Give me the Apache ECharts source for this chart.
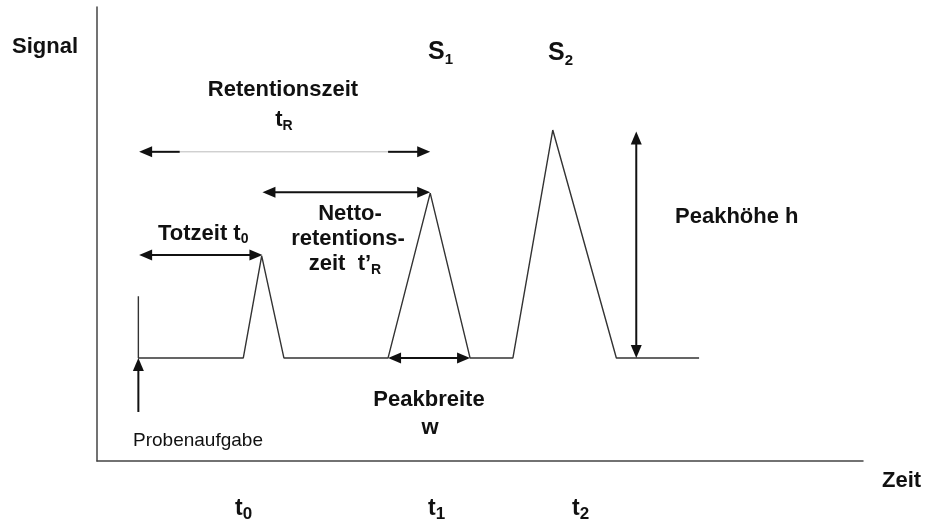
<!DOCTYPE html>
<html><head><meta charset="utf-8">
<script src="https://cdn.jsdelivr.net/npm/echarts@6/dist/echarts.min.js"></script>
<style>html,body{margin:0;padding:0;background:#fff}#c{width:925px;height:524px}</style>
</head><body><div id="c"></div>
<script>
// Chromatogram trace (time, signal) in arbitrary units 0..100
const timeValues   = [5.4, 5.4, 19.1, 21.5, 24.4, 38.0, 43.5, 48.7, 54.3, 59.5, 67.8, 78.6];
const signalValues = [36.3, 22.7, 22.7, 45.2, 22.7, 22.7, 59.0, 22.7, 22.7, 72.9, 22.7, 22.7];

// Annotation arrows: [x1, y1, x2, y2, headAtStart, headAtEnd]
const arrowTotzeit      = [5.5, 45.4, 21.6, 45.4, 1, 1];
const arrowNetto        = [21.6, 59.2, 43.5, 59.2, 1, 1];
const arrowRetentionL   = [10.8, 68.1, 5.5, 68.1, 0, 1];
const arrowRetentionR   = [38.0, 68.1, 43.5, 68.1, 0, 1];
const arrowPeakbreite   = [38.0, 22.7, 48.7, 22.7, 1, 1];
const arrowPeakhoehe    = [70.4, 22.7, 70.4, 72.6, 1, 1];
const arrowProbe        = [5.4, 10.8, 5.4, 22.7, 0, 1];
const retentionGuide    = [[10.8, 68.1], [38.0, 68.1]];

// Labels
const peakNames   = ['1', '2'];
const timeTicks   = ['0', '1', '2'];

const chart = echarts.init(document.getElementById('c'));
const FONT = '"Liberation Sans", Arial, Helvetica, sans-serif';
const INK = '#111';

function head(tip, from, L, W) {
  const dx = tip[0] - from[0], dy = tip[1] - from[1];
  const len = Math.sqrt(dx * dx + dy * dy) || 1;
  const ux = dx / len, uy = dy / len;
  const bx = tip[0] - ux * L, by = tip[1] - uy * L;
  const nx = -uy, ny = ux;
  return {
    type: 'polygon',
    shape: { points: [[tip[0], tip[1]], [bx + nx * W / 2, by + ny * W / 2], [bx - nx * W / 2, by - ny * W / 2]] },
    style: { fill: INK }
  };
}

const arrows = [arrowTotzeit, arrowNetto, arrowRetentionL, arrowRetentionR, arrowPeakbreite, arrowPeakhoehe, arrowProbe];

function bold(fs) { return 'bold ' + fs + 'px ' + FONT; }

function txt(x, baseline, text, fs, align, opts) {
  opts = opts || {};
  const weight = opts.weight || 'bold';
  const lh = opts.lineHeight || fs;
  const style = {
    text: text,
    font: weight + ' ' + fs + 'px ' + FONT,
    fill: INK,
    align: align, textAlign: align,
    verticalAlign: 'middle', textVerticalAlign: 'middle'
  };
  if (opts.rich) style.rich = opts.rich;
  return { type: 'text', x: x, y: baseline - 0.35 * fs, style: style, z: 10 };
}

function subRich(fs, subFs, lh) {
  return {
    m: { font: bold(fs), fill: INK, lineHeight: lh, verticalAlign: 'middle' },
    s: { font: bold(subFs), fill: INK, lineHeight: lh, verticalAlign: 'bottom' }
  };
}

const graphics = [
  txt(12, 55, 'Signal', 22, 'left'),
  txt(428, 61, '{m|S}{s|' + peakNames[0] + '}', 25, 'left', { rich: subRich(25, 15, 30) }),
  txt(548, 62, '{m|S}{s|' + peakNames[1] + '}', 25, 'left', { rich: subRich(25, 15, 30) }),
  txt(283, 98, 'Retentionszeit', 22, 'center'),
  txt(284, 128, '{m|t}{s|R}', 22, 'center', { rich: subRich(22, 14, 26) }),
  txt(158, 242, '{m|Totzeit t}{s|0}', 22, 'left', { rich: subRich(22, 14, 24) }),
  txt(350, 222, 'Netto-', 22, 'center'),
  txt(348, 247, 'retentions-', 22, 'center'),
  txt(345, 272, '{m|zeit  t\u2019}{s|R}', 22, 'center', { rich: subRich(22, 14, 26) }),
  txt(675, 225, 'Peakhöhe h', 22, 'left'),
  txt(429, 408, 'Peakbreite', 22, 'center'),
  txt(430, 436, 'w', 22, 'center'),
  txt(133, 447, 'Probenaufgabe', 19, 'left', { weight: 'normal' }),
  txt(235, 517, '{m|t}{s|' + timeTicks[0] + '}', 23, 'left', { rich: subRich(23, 17, 28) }),
  txt(428, 517, '{m|t}{s|' + timeTicks[1] + '}', 23, 'left', { rich: subRich(23, 17, 28) }),
  txt(572, 517, '{m|t}{s|' + timeTicks[2] + '}', 23, 'left', { rich: subRich(23, 17, 28) }),
  txt(882, 489, 'Zeit', 22, 'left')
];

const axisCommon = {
  type: 'value', min: 0, max: 100,
  axisLine: { show: true, lineStyle: { color: '#444', width: 1.5 } },
  axisTick: { show: false }, axisLabel: { show: false }, splitLine: { show: false }
};

chart.setOption({
  animation: false,
  backgroundColor: '#fff',
  grid: { left: 97, right: 62, top: 7, bottom: 63 },
  xAxis: Object.assign({}, axisCommon),
  yAxis: Object.assign({}, axisCommon),
  graphic: graphics,
  series: [
    {
      type: 'line',
      data: timeValues.map((t, i) => [t, signalValues[i]]),
      symbol: 'none',
      lineStyle: { color: '#333', width: 1.4 },
      z: 3
    },
    {
      type: 'line',
      data: retentionGuide,
      symbol: 'none',
      lineStyle: { color: '#bbb', width: 1 },
      z: 2
    },
    {
      type: 'custom',
      data: arrows,
      z: 4,
      renderItem: function (params, api) {
        const p1 = api.coord([api.value(0), api.value(1)]);
        const p2 = api.coord([api.value(2), api.value(3)]);
        const hs = api.value(4), he = api.value(5);
        const L = 13, W = 11;
        const dx = p2[0] - p1[0], dy = p2[1] - p1[1];
        const len = Math.sqrt(dx * dx + dy * dy) || 1;
        const ux = dx / len, uy = dy / len;
        const a = hs ? [p1[0] + ux * (L - 2), p1[1] + uy * (L - 2)] : p1;
        const b = he ? [p2[0] - ux * (L - 2), p2[1] - uy * (L - 2)] : p2;
        const children = [{
          type: 'line',
          shape: { x1: a[0], y1: a[1], x2: b[0], y2: b[1] },
          style: { stroke: INK, lineWidth: 2 }
        }];
        if (hs) children.push(head(p1, p2, L, W));
        if (he) children.push(head(p2, p1, L, W));
        return { type: 'group', children: children };
      }
    }
  ]
});
</script>
</body></html>
